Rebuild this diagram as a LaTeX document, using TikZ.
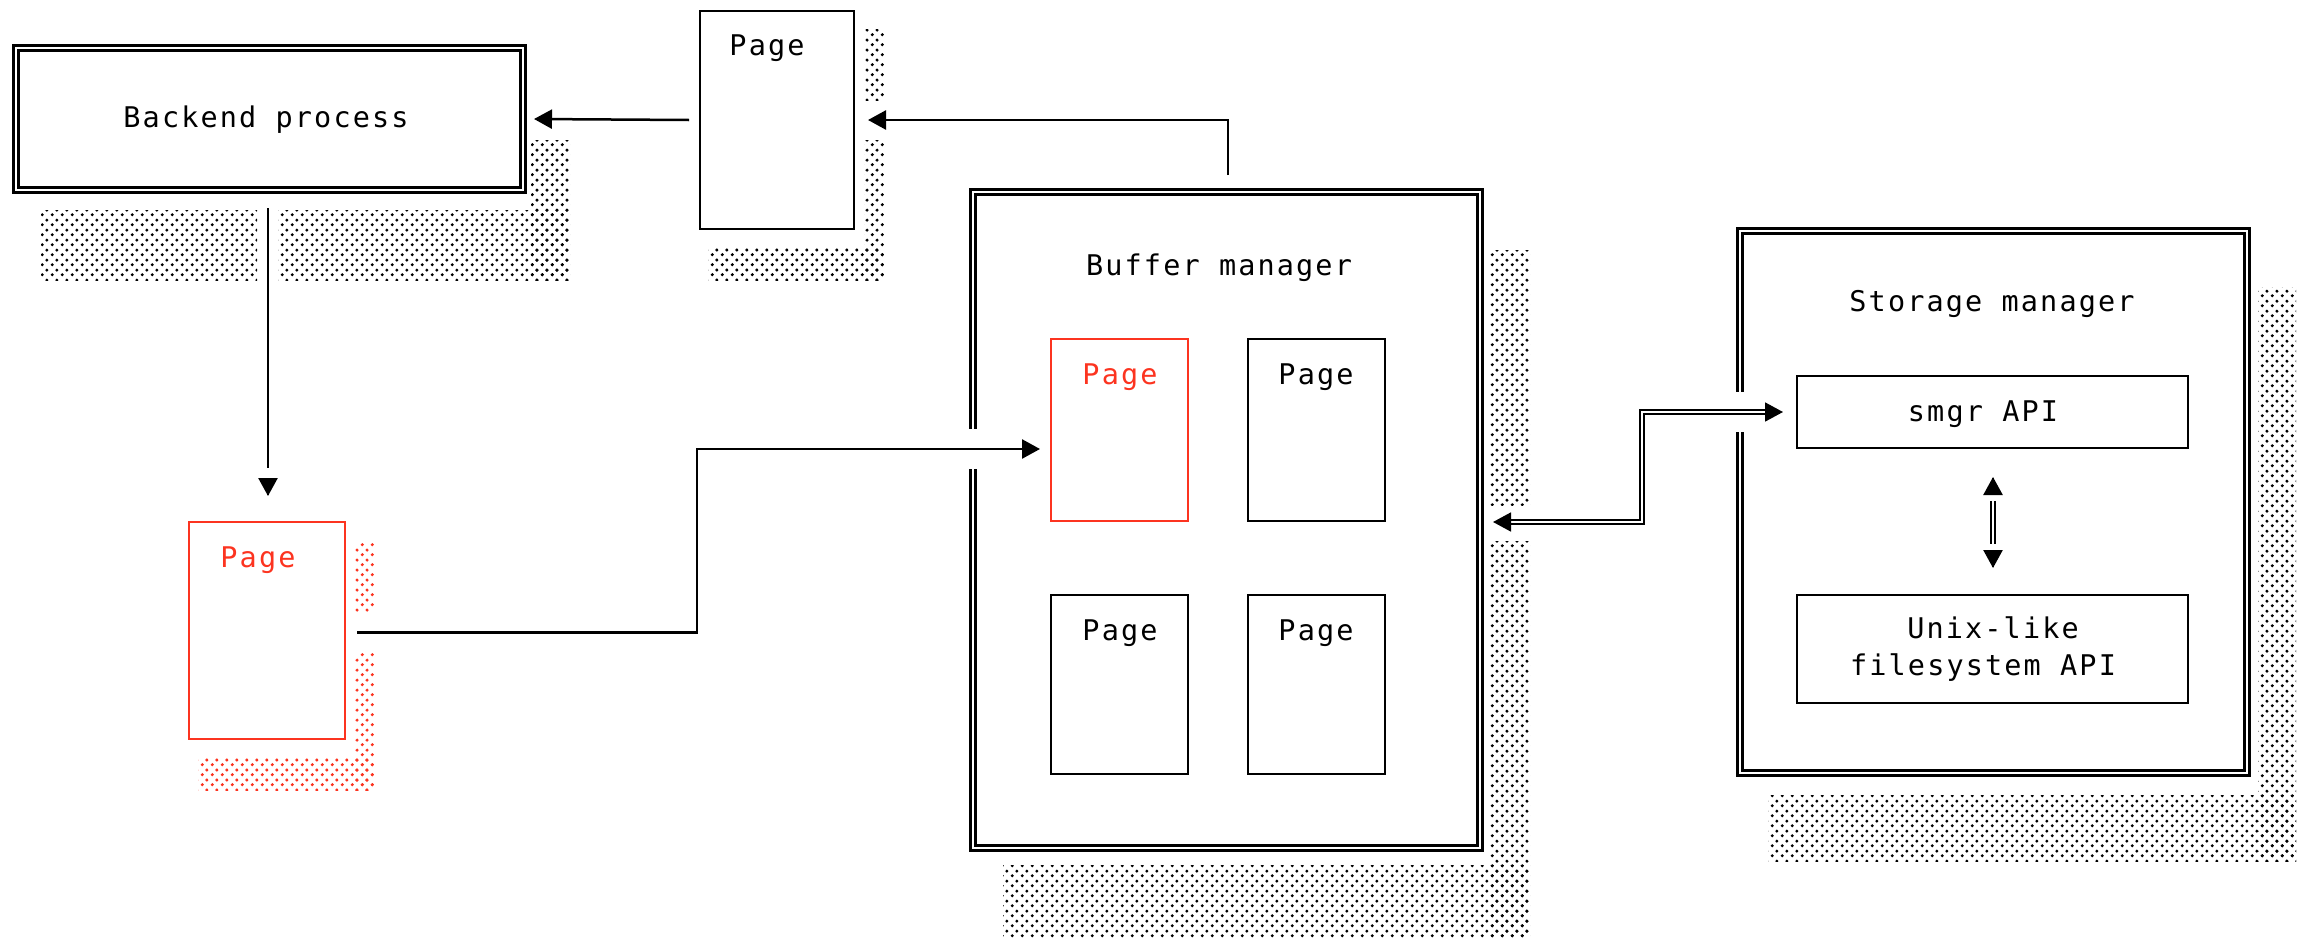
\documentclass[tikz,border=0pt]{standalone}
\usepackage{fontspec}
\newfontfamily\monofnt[LetterSpace=7.5]{DejaVu Sans Mono}
\usetikzlibrary{arrows.meta,patterns.meta,calc}
\definecolor{pgred}{RGB}{252,52,32}
\pgfdeclarepattern{
  name=shadedots,
  type=uncolored,
  bottom left={\pgfpoint{0pt}{0pt}},
  top right={\pgfpoint{10pt}{10pt}},
  tile size={\pgfpoint{10pt}{10pt}},
  code={
    \pgfpathcircle{\pgfpoint{2.5pt}{2.5pt}}{1.8pt}
    \pgfpathcircle{\pgfpoint{7.5pt}{7.5pt}}{1.8pt}
    \pgfusepath{fill}
  }
}
\begin{document}
\begin{tikzpicture}[x=1pt,y=-1pt,
  every node/.style={font=\monofnt\fontsize{28.5}{37}\selectfont, inner sep=0pt, outer sep=0pt},
  dblbox/.style={draw, double, line width=2.2pt, double distance=2.8pt},
  pagebox/.style={draw, line width=2.5pt},
  redbox/.style={pagebox, draw=pgred},
  lbl/.style={anchor=base},
  redlbl/.style={anchor=base, text=pgred},
  shadow/.style={pattern=shadedots, pattern color=black},
  redshadow/.style={pattern=shadedots, pattern color=pgred},
  conn/.style={line width=2.5pt, -{Triangle[length=18pt,width=19pt]}},
  vconn/.style={line width=2.5pt, shorten >=28pt},
  tiponly/.style={-{Triangle[length=18pt,width=19pt]}, line width=2.5pt},
  dblconn/.style={double, line width=1.8pt, double distance=2.4pt, {Triangle[length=18pt,width=19pt]}-{Triangle[length=18pt,width=19pt]}},
  vdbl/.style={double, line width=1.5pt, double distance=2.5pt, shorten >=24pt, shorten <=24pt}
]
\useasboundingbox (0,0) rectangle (2307,937);

% shadows
\fill[shadow] (531,140) rectangle (570,280);
\fill[shadow] (41,210) rectangle (257,280);
\fill[shadow] (278,210) rectangle (570,280);
\fill[shadow] (864,29) rectangle (884,100);
\fill[shadow] (864,140) rectangle (884,280);
\fill[shadow] (708,247) rectangle (884,280);
\fill[redshadow] (355,543) rectangle (374,612);
\fill[redshadow] (355,653) rectangle (374,790);
\fill[redshadow] (198,758) rectangle (374,790);
\fill[shadow] (1490,250) rectangle (1530,505);
\fill[shadow] (1490,541) rectangle (1530,937);
\fill[shadow] (1003,865) rectangle (1530,937);
\fill[shadow] (2258,287) rectangle (2296,861);
\fill[shadow] (1768,795) rectangle (2296,861);

% boxes
\node[dblbox, minimum width=507pt, minimum height=142pt] (be) at (269.5,119) {};
\node[dblbox, minimum width=507pt, minimum height=656pt] (bm) at (1226.5,520) {};
\node[dblbox, minimum width=507pt, minimum height=542pt] (sm) at (1993.5,502) {};
\node[pagebox, minimum width=154pt, minimum height=218pt] (tp) at (777,120) {};
\node[redbox, minimum width=156pt, minimum height=217pt] (rp) at (267,630.5) {};
\node[redbox, minimum width=137pt, minimum height=182pt] (bp1) at (1119.5,430) {};
\node[pagebox, minimum width=137pt, minimum height=182pt] (bp2) at (1316.5,430) {};
\node[pagebox, minimum width=137pt, minimum height=179pt] (bp3) at (1119.5,684.5) {};
\node[pagebox, minimum width=137pt, minimum height=179pt] (bp4) at (1316.5,684.5) {};
\node[pagebox, minimum width=391pt, minimum height=72pt] (smgr) at (1992.5,412) {};
\node[pagebox, minimum width=391pt, minimum height=108pt] (ux) at (1992.5,649) {};

% gaps in borders where connectors enter
\fill[white] (963,429) rectangle (983,469);
\fill[white] (1730,392) rectangle (1750,432);

% labels
\node[lbl] (tbe) at (266,127) {Backend process};
\node[lbl] (ttp) at (767,55) {Page};
\node[redlbl] (trp) at (258,567) {Page};
\node[lbl] (tbm) at (1219,275) {Buffer manager};
\node[redlbl] (tbp1) at (1120,384) {Page};
\node[lbl] (tbp2) at (1316,384) {Page};
\node[lbl] (tbp3) at (1120,640) {Page};
\node[lbl] (tbp4) at (1316,640) {Page};
\node[lbl] (tsm) at (1992,311) {Storage manager};
\node[lbl] (tsmgr) at (1983,421) {smgr API};
\node[lbl] (tux1) at (1993,638) {Unix-like};
\node[lbl] (tux2) at (1983,675) {filesystem API};

% connectors
\coordinate (k1) at (697,449);
\coordinate (k2) at (1642,412);
\coordinate (v1s) at ($(be.south)+(-1.5,18)$);
\coordinate (v1e) at ($(rp.north)+(1,-26)$);
\coordinate (v2s) at ($(smgr.south)+(0.5,29)$);
\coordinate (v2e) at ($(ux.north)+(0.5,-27)$);
\draw[conn] ($(tp.west)+(-11,0)$) -- ($(be.east)+(11,0)$);
\draw[conn] ($(bm.north)+(1.5,-17)$) |- ($(tp.east)+(14,0)$);
\draw[vconn] (v1s) -- (v1e);
\draw[tiponly] ($(v1e)+(0,-1)$) -- (v1e);
\draw[conn] ($(rp.east)+(12,2)$) -| (k1) -- ($(bp1.west |- k1)+(-11,0)$);
\draw[dblconn] ($(bm.east)+(13,2)$) -| (k2) -- ($(smgr.west)+(-14,0)$);
\draw[vdbl] (v2s) -- (v2e);
\draw[tiponly] ($(v2s)+(0,1)$) -- (v2s);
\draw[tiponly] ($(v2e)+(0,-1)$) -- (v2e);
\end{tikzpicture}
\end{document}
